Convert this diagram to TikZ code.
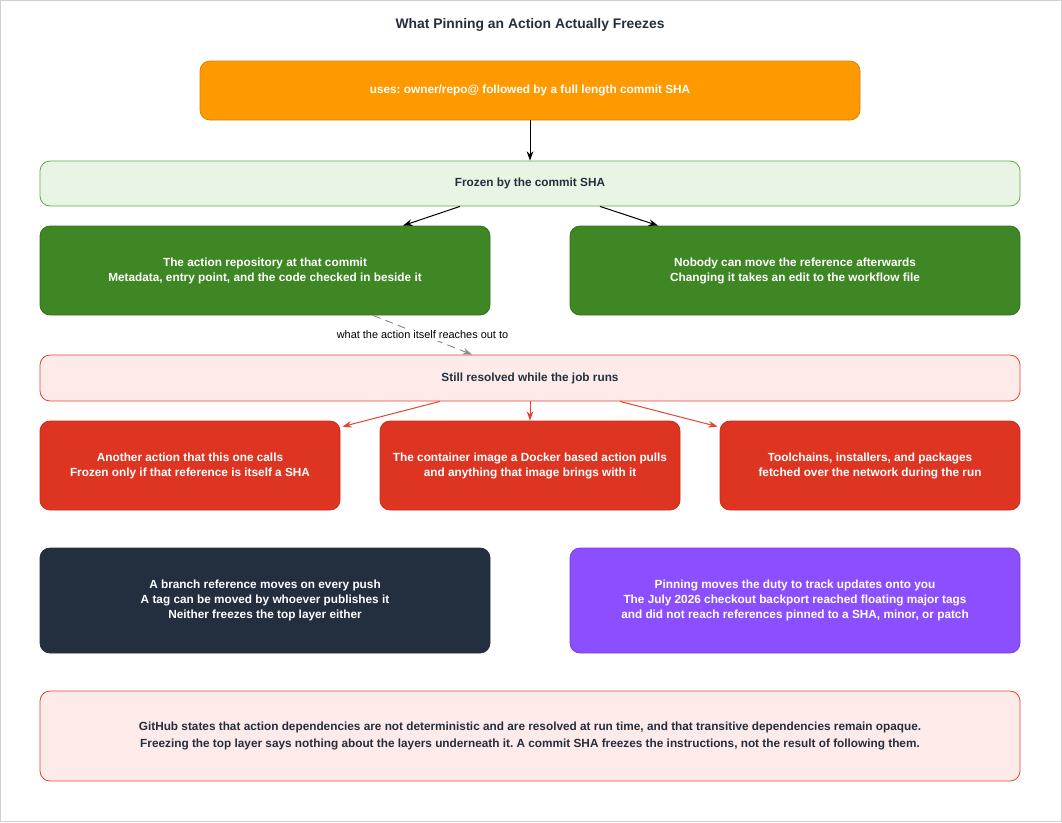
\documentclass[tikz,border=0pt]{standalone}
\usepackage{fontspec}
\setmainfont{Liberation Sans}
\frenchspacing
\usetikzlibrary{arrows.meta,calc}

\definecolor{orange1}{HTML}{FF9900}
\definecolor{orange2}{HTML}{D98200}
\definecolor{vertpale}{HTML}{E8F5E5}
\definecolor{vertbord}{HTML}{62AA45}
\definecolor{vert1}{HTML}{3F8624}
\definecolor{vert2}{HTML}{357020}
\definecolor{rougepale}{HTML}{FDEBEA}
\definecolor{rougebord}{HTML}{E0452F}
\definecolor{rouge1}{HTML}{DD3522}
\definecolor{rouge2}{HTML}{C42E1C}
\definecolor{nuit}{HTML}{232F3E}
\definecolor{violet1}{HTML}{8C4FFF}
\definecolor{encre}{HTML}{232F3E}

\tikzset{boite/.style 2 args = {rectangle, rounded corners=7.5pt, draw=#2, fill=#1,
                                 align=center, text=white, line width=0.6pt,
                                 font=\fontsize{8.85pt}{11.25pt}\selectfont\bfseries},
         bande/.style = {boite={#1}{rougebord}, text=encre, minimum width=735pt},
         bande/.default = rougepale,
         fleche/.style = {-{Stealth[length=7pt,width=5pt]}, line width=0.75pt, draw=#1},
         fleche/.default = black
        }

\begin{document}
\begin{tikzpicture}[x=0.75pt, y=-0.75pt]
  \useasboundingbox (0,0) rectangle (1062,822);
  \draw[black!18, line width=1pt] (0.5,0.5) rectangle (1061.5,821.5);

  \node[encre, font=\fontsize{10.4pt}{12pt}\selectfont\bfseries] (titre) at (530,25)
       {What Pinning an Action Actually Freezes};

  \node[boite={orange1}{orange2}, minimum width=495pt, minimum height=44.25pt] (usage) at (530,90.5)
       {uses: owner/repo@ followed by a full length commit SHA};
  \node[bande=vertpale, draw=vertbord, minimum height=33.75pt] (gele) at (530,183.5)
       {Frozen by the commit SHA};

  \node[boite={vert1}{vert2}, minimum width=337.5pt, minimum height=66.75pt] (depot) at (265,270.5)
       {The action repository at that commit\\Metadata, entry point, and the code checked in beside it};
  \node[boite={vert1}{vert2}, minimum width=337.5pt, minimum height=66.75pt] (personne) at (795,270.5)
       {Nobody can move the reference afterwards\\Changing it takes an edit to the workflow file};

  \node[bande, minimum height=34.5pt] (resolu) at (530,378)
       {Still resolved while the job runs};

  \node[boite={rouge1}{rouge2}, minimum width=225pt, minimum height=66.75pt] (autre) at (190,465.5)
       {Another action that this one calls\\Frozen only if that reference is itself a SHA};
  \node[boite={rouge1}{rouge2}, minimum width=225pt, minimum height=66.75pt] (image) at (530,465.5)
       {The container image a Docker based action pulls\\and anything that image brings with it};
  \node[boite={rouge1}{rouge2}, minimum width=225pt, minimum height=66.75pt] (outils) at (870,465.5)
       {Toolchains, installers, and packages\\fetched over the network during the run};

  \node[boite={nuit}{nuit}, minimum width=337.5pt, minimum height=78.75pt] (branche) at (265,600.5)
       {A branch reference moves on every push\\A tag can be moved by whoever publishes it\\Neither freezes the top layer either};
  \node[boite={violet1}{violet1!85!black}, minimum width=337.5pt, minimum height=78.75pt] (devoir) at (795,600.5)
       {Pinning moves the duty to track updates onto you\\The July 2026 checkout backport reached floating major tags\\and did not reach references pinned to a SHA, minor, or patch};

  \node[bande, minimum height=67.5pt] (github) at (530,736)
       {GitHub states that action dependencies are not deterministic and are resolved at run time, and that transitive dependencies remain opaque.\\[1pt]
        Freezing the top layer says nothing about the layers underneath it. A commit SHA freezes the instructions, not the result of following them.};

  \draw[fleche] (usage) -- (gele);
  \draw[fleche] ($(gele.south)+(-70,0)$) -- ($(depot.north)+(138,0)$);
  \draw[fleche] ($(gele.south)+(70,0)$) -- ($(personne.north)+(-137,0)$);
  \draw[fleche=black!45, dashed, dash pattern=on 6pt off 4pt] ($(depot.south)+(108,0)$) --
       node[fill=white, text=black, inner sep=1.5pt, font=\fontsize{8.2pt}{9pt}\selectfont] (portee) {what the action itself reaches out to}
       ($(resolu.north)+(-58,0)$);
  \draw[fleche=rougebord] ($(resolu.south)+(-90,0)$) -- ($(autre.north east)+(2,6)$);
  \draw[fleche=rougebord] (resolu) -- (image);
  \draw[fleche=rougebord] ($(resolu.south)+(90,0)$) -- ($(outils.north west)+(-2,6)$);
\end{tikzpicture}
\end{document}
